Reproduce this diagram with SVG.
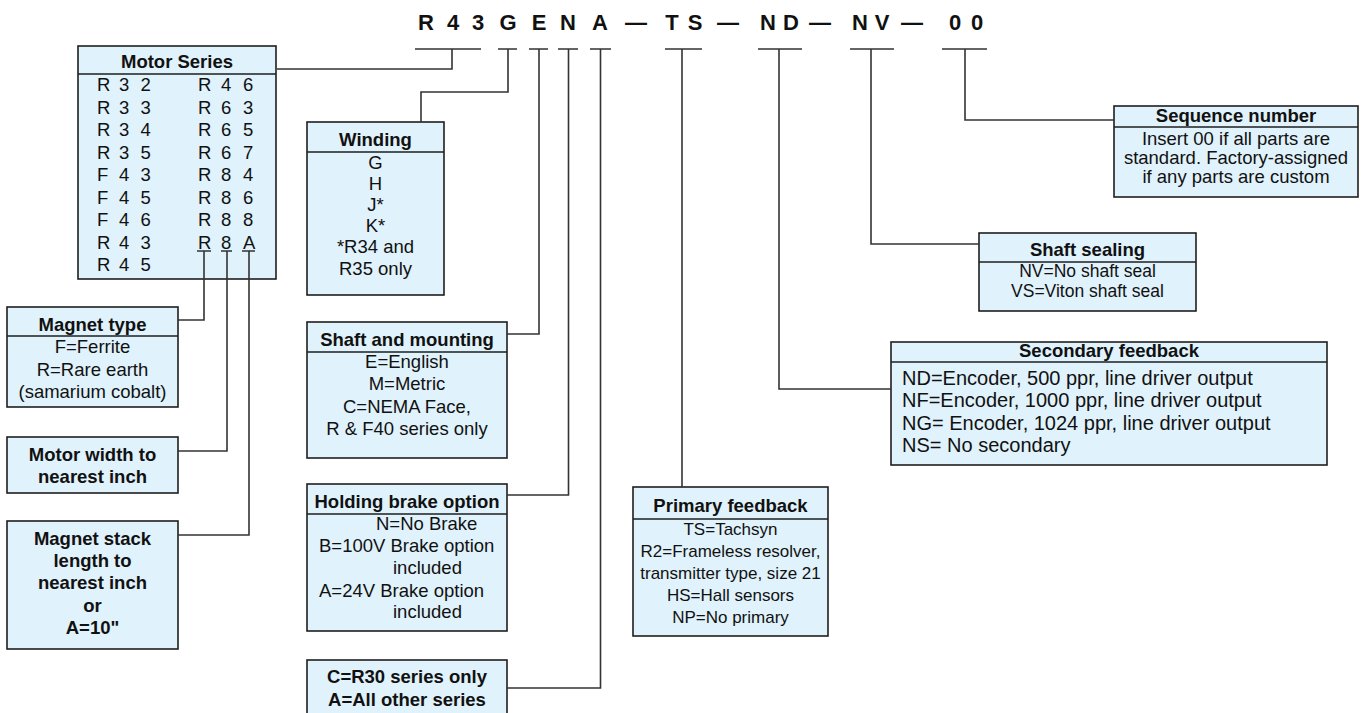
<svg xmlns="http://www.w3.org/2000/svg" width="1371" height="713" viewBox="0 0 1371 713">
<style>
.box{fill:#e0f2fb;stroke:#1e1e1e;stroke-width:1.6}
.sep{stroke:#1e1e1e;stroke-width:1.6}
text{font-family:"Liberation Sans",Arial,sans-serif;font-size:18.5px;fill:#111}
.b{font-weight:bold}
.c{text-anchor:middle}
.code{font-size:22px;font-weight:bold;text-anchor:middle}
.conn{fill:none;stroke:#333;stroke-width:1.6}
.s17{font-size:17px}
.s175{font-size:17.5px}
.s20{font-size:20px}
</style>
<rect width="1371" height="713" fill="#fff"/>
<g id="code">
<text class="code" x="426" y="30">R</text>
<text class="code" x="453" y="30">4</text>
<text class="code" x="478" y="30">3</text>
<text class="code" x="508" y="30">G</text>
<text class="code" x="539" y="30">E</text>
<text class="code" x="568" y="30">N</text>
<text class="code" x="600" y="30">A</text>
<text class="code" x="636" y="30">—</text>
<text class="code" x="672" y="30">T</text>
<text class="code" x="695" y="30">S</text>
<text class="code" x="728" y="30">—</text>
<text class="code" x="768" y="30">N</text>
<text class="code" x="791" y="30">D</text>
<text class="code" x="820" y="30">—</text>
<text class="code" x="860" y="30">N</text>
<text class="code" x="882" y="30">V</text>
<text class="code" x="912" y="30">—</text>
<text class="code" x="955" y="30">0</text>
<text class="code" x="977" y="30">0</text>
</g>
<g id="motor-series">
<rect class="box" x="78" y="46" width="198" height="233"/>
<line class="sep" x1="78" y1="74" x2="276" y2="74"/>
<text class="b c" x="177" y="68">Motor Series</text>
<text x="97 110 119 130 140.5" y="91">R 3 2</text>
<text x="97 110 119 130 140.5" y="113.5">R 3 3</text>
<text x="97 110 119 130 140.5" y="136">R 3 4</text>
<text x="97 110 119 130 140.5" y="158.5">R 3 5</text>
<text x="97 110 119 130 140.5" y="181">F 4 3</text>
<text x="97 110 119 130 140.5" y="203.5">F 4 5</text>
<text x="97 110 119 130 140.5" y="226">F 4 6</text>
<text x="97 110 119 130 140.5" y="248.5">R 4 3</text>
<text x="97 110 119 130 140.5" y="271">R 4 5</text>
<text x="198 211 221 232 243" y="91">R 4 6</text>
<text x="198 211 221 232 243" y="113.5">R 6 3</text>
<text x="198 211 221 232 243" y="136">R 6 5</text>
<text x="198 211 221 232 243" y="158.5">R 6 7</text>
<text x="198 211 221 232 243" y="181">R 8 4</text>
<text x="198 211 221 232 243" y="203.5">R 8 6</text>
<text x="198 211 221 232 243" y="226">R 8 8</text>
<text x="198 211 221 232 243" y="248.5">R 8 A</text>
</g>
<g id="magnet-type">
<rect class="box" x="7" y="307" width="171" height="100"/>
<line class="sep" x1="7" y1="336" x2="178" y2="336"/>
<text class="b c" x="92.5" y="331">Magnet type</text>
<text class="c" x="92.5" y="353">F=Ferrite</text>
<text class="c" x="92.5" y="376">R=Rare earth</text>
<text class="c" x="92.5" y="398">(samarium cobalt)</text>
</g>
<g id="motor-width">
<rect class="box" x="7" y="437" width="171" height="56"/>
<text class="b c" x="92.5" y="461">Motor width to</text>
<text class="b c" x="92.5" y="483">nearest inch</text>
</g>
<g id="magnet-stack">
<rect class="box" x="7" y="521" width="171" height="128"/>
<text class="b c" x="92.5" y="545">Magnet stack</text>
<text class="b c" x="92.5" y="567">length to</text>
<text class="b c" x="92.5" y="589">nearest inch</text>
<text class="b c" x="92.5" y="612">or</text>
<text class="b c" x="92.5" y="634">A=10"</text>
</g>
<g id="winding">
<rect class="box" x="307" y="122" width="137" height="173"/>
<line class="sep" x1="307" y1="152" x2="444" y2="152"/>
<text class="b c" x="375.5" y="146">Winding</text>
<text class="c" x="375.5" y="169">G</text>
<text class="c" x="375.5" y="190">H</text>
<text class="c" x="375.5" y="211">J*</text>
<text class="c" x="375.5" y="232">K*</text>
<text class="c" x="375.5" y="253">*R34 and</text>
<text class="c" x="375.5" y="275">R35 only</text>
</g>
<g id="shaft-mounting">
<rect class="box" x="307" y="322" width="200" height="136"/>
<line class="sep" x1="307" y1="352" x2="507" y2="352"/>
<text class="b c" x="407" y="346">Shaft and mounting</text>
<text class="c" x="407" y="368">E=English</text>
<text class="c" x="407" y="390">M=Metric</text>
<text class="c" x="407" y="413">C=NEMA Face,</text>
<text class="c" x="407" y="435">R &amp; F40 series only</text>
</g>
<g id="holding-brake">
<rect class="box" x="307" y="484" width="200" height="147"/>
<line class="sep" x1="307" y1="514" x2="507" y2="514"/>
<text class="b c" x="407" y="508">Holding brake option</text>
<text x="376" y="530">N=No Brake</text>
<text x="319" y="552">B=100V Brake option</text>
<text x="393" y="574">included</text>
<text x="319" y="597">A=24V Brake option</text>
<text x="393" y="618">included</text>
</g>
<g id="series-letter">
<rect class="box" x="307" y="660" width="200" height="56"/>
<text class="b c" x="407" y="683">C=R30 series only</text>
<text class="b c" x="407" y="706">A=All other series</text>
</g>
<g id="primary-feedback">
<rect class="box" x="633" y="487" width="195" height="149"/>
<line class="sep" x1="633" y1="519" x2="828" y2="519"/>
<text class="b c" x="730.5" y="512">Primary feedback</text>
<text class="c s17" x="730.5" y="535">TS=Tachsyn</text>
<text class="c s17" x="730.5" y="557">R2=Frameless resolver,</text>
<text class="c s17" x="730.5" y="579">transmitter type, size 21</text>
<text class="c s17" x="730.5" y="601">HS=Hall sensors</text>
<text class="c s17" x="730.5" y="623">NP=No primary</text>
</g>
<g id="secondary-feedback">
<rect class="box" x="891" y="342" width="436" height="123"/>
<line class="sep" x1="891" y1="362" x2="1327" y2="362"/>
<text class="b c" x="1109" y="357">Secondary feedback</text>
<text class="s20" x="902" y="385">ND=Encoder, 500 ppr, line driver output</text>
<text class="s20" x="902" y="407">NF=Encoder, 1000 ppr, line driver output</text>
<text class="s20" x="902" y="430">NG= Encoder, 1024 ppr, line driver output</text>
<text class="s20" x="902" y="452">NS= No secondary</text>
</g>
<g id="shaft-sealing">
<rect class="box" x="979" y="233" width="217" height="78"/>
<line class="sep" x1="979" y1="262" x2="1196" y2="262"/>
<text class="b c" x="1087.5" y="256">Shaft sealing</text>
<text class="c s175" x="1087.5" y="277">NV=No shaft seal</text>
<text class="c s175" x="1087.5" y="297">VS=Viton shaft seal</text>
</g>
<g id="sequence-number">
<rect class="box" x="1114" y="106" width="244" height="91"/>
<line class="sep" x1="1114" y1="127" x2="1358" y2="127"/>
<text class="b c" x="1236" y="122">Sequence number</text>
<text class="c" x="1236" y="145">Insert 00 if all parts are</text>
<text class="c" x="1236" y="164">standard. Factory-assigned</text>
<text class="c" x="1236" y="183">if any parts are custom</text>
</g>
<g id="connectors">
<path class="conn" d="M415 49H481M498 49H517M529 49H548M558 49H578M590 49H611M665 49H702M758 49H802M850 49H894M942 49H987"/>
<path class="conn" d="M277 69H452V49"/>
<path class="conn" d="M421 122V92H508V49"/>
<path class="conn" d="M507 334H539V49"/>
<path class="conn" d="M507 495H568.5V49"/>
<path class="conn" d="M507 688H600.5V49"/>
<path class="conn" d="M682 487V49"/>
<path class="conn" d="M891 389H779V49"/>
<path class="conn" d="M979 244H871V49"/>
<path class="conn" d="M1114 120H965V49"/>
<path class="conn" d="M197 251H211M221 251H232M242 251H255"/>
<path class="conn" d="M204 251V320H178"/>
<path class="conn" d="M227 251V451H178"/>
<path class="conn" d="M249 251V535H178"/>
</g>
</svg>
